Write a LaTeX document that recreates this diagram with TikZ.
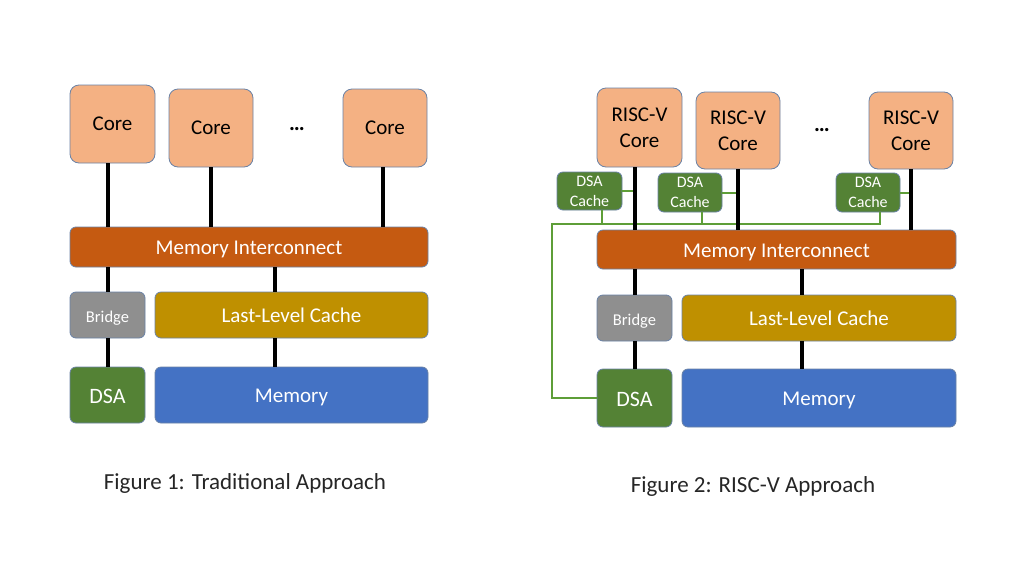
\documentclass[tikz,border=0pt]{standalone}
\usepackage{fontspec}
\setmainfont{Carlito}
\usetikzlibrary{calc}
\definecolor{corefill}{HTML}{F4B183}
\definecolor{boxline}{HTML}{6A82A6}
\definecolor{mifill}{HTML}{C55A11}
\definecolor{llcfill}{HTML}{BF9000}
\definecolor{brfill}{HTML}{8F8F8F}
\definecolor{dsafill}{HTML}{548235}
\definecolor{memfill}{HTML}{4472C4}
\definecolor{gline}{HTML}{5E9E38}
\tikzset{
  box/.style={draw=boxline, line width=0.8pt, rounded corners=6pt, inner sep=0pt, outer sep=0pt, text=white, align=center, font=\fontsize{21}{24}\selectfont},
  oneline/.style={text height=16pt, text depth=1pt},
  corebox/.style={box, fill=corefill, text=black, rounded corners=9pt, font=\fontsize{21}{26}\selectfont},
  mibox/.style={box, oneline, fill=mifill},
  llcbox/.style={box, oneline, fill=llcfill},
  brbox/.style={box, fill=brfill, font=\fontsize{16.5}{18}\selectfont, text height=14pt, text depth=0pt},
  dsabox/.style={box, fill=dsafill, font=\fontsize{22}{24}\selectfont, text height=17pt, text depth=1pt},
  dcbox/.style={box, fill=dsafill, font=\fontsize{16}{20}\selectfont},
  membox/.style={box, oneline, fill=memfill},
  wire/.style={line width=4pt, black},
  gwire/.style={line width=2pt, gline},
  dotsnode/.style={font=\fontsize{22}{24}\selectfont\bfseries, inner sep=0pt},
  caption/.style={font=\fontsize{23}{26}\selectfont, text=black!85, inner sep=0pt}
}
\begin{document}
\begin{tikzpicture}[x=1pt,y=-1pt]
\useasboundingbox[fill=white] (0,0) rectangle (1024,576);

% ---------- Figure 1 ----------
\node[corebox, minimum width=85, minimum height=78] (a1) at (112.5,124) {Core};
\node[corebox, minimum width=84, minimum height=78] (a2) at (211,128) {Core};
\node[corebox, minimum width=84, minimum height=78] (a3) at (385,128) {Core};
\node[dotsnode] (adots) at (297,129) {…};
\node[mibox, minimum width=358, minimum height=40] (ami) at (249,247) {Memory Interconnect};
\node[brbox, minimum width=75, minimum height=46] (abr) at (107.5,315) {Bridge};
\node[llcbox, minimum width=273, minimum height=46] (allc) at (291.5,315) {Last-Level Cache};
\node[dsabox, minimum width=75, minimum height=56] (adsa) at (107.5,395) {DSA};
\node[membox, minimum width=273, minimum height=56] (amem) at (291.5,395) {Memory};
\coordinate (allcx) at ($(allc.north west)!0.44!(allc.north east)$);
\draw[wire] (abr.north |- a1.south) -- (abr.north |- ami.north);
\draw[wire] (a2.south) -- (a2.south |- ami.north);
\draw[wire] ($(a3.south)+(-2,0)$) -- ($(a3.south |- ami.north)+(-2,0)$);
\draw[wire] (abr.north |- ami.south) -- (abr.north);
\draw[wire] (allcx |- ami.south) -- (allcx);
\draw[wire] (abr.south) -- (adsa.north);
\draw[wire] (allcx |- allc.south) -- (allcx |- amem.north);
\node[caption] (cap1) at (245,483) {Figure 1: Traditional Approach};

% ---------- Figure 2 ----------
\node[corebox, minimum width=85, minimum height=79] (b1) at (639.5,127.5) {RISC-V\\Core};
\node[corebox, minimum width=84, minimum height=77] (b2) at (738,130.5) {RISC-V\\Core};
\node[corebox, minimum width=84, minimum height=77] (b3) at (911,130.5) {RISC-V\\Core};
\node[dotsnode] (bdots) at (822,130) {…};
\node[dcbox, minimum width=65, minimum height=38] (dc1) at (589.5,191) {DSA\\Cache};
\node[dcbox, minimum width=64, minimum height=39] (dc2) at (690,192.5) {DSA\\Cache};
\node[dcbox, minimum width=64, minimum height=39] (dc3) at (868,192.5) {DSA\\Cache};
\node[mibox, minimum width=359, minimum height=39] (bmi) at (776.5,249.5) {Memory Interconnect};
\node[brbox, minimum width=75, minimum height=46] (bbr) at (634.5,318) {Bridge};
\node[llcbox, minimum width=274, minimum height=46] (bllc) at (819,318) {Last-Level Cache};
\node[dsabox, minimum width=75, minimum height=58] (bdsa) at (634.5,398) {DSA};
\node[membox, minimum width=274, minimum height=58] (bmem) at (819,398) {Memory};
\coordinate (bllcx) at ($(bllc.north west)!0.438!(bllc.north east)$);
\coordinate (d1) at ($(dc1.south west)!0.69!(dc1.south east)$);
\coordinate (d2) at ($(dc2.south west)!0.69!(dc2.south east)$);
\coordinate (d3) at ($(dc3.south west)!0.69!(dc3.south east)$);
\coordinate (busleft) at (552,224);
% green DSA links
\draw[gwire] (dc1.east) -- (dc1.east -| bbr.north);
\draw[gwire] (dc2.east) -- (dc2.east -| b2.south);
\draw[gwire] (dc3.east) -- (dc3.east -| b3.south);
\draw[gwire] (d1) -- (d1 |- busleft);
\draw[gwire] (d2) -- (d2 |- busleft);
\draw[gwire] (d3) |- (busleft) |- (bdsa.west);
% black wires
\draw[wire] (bbr.north |- b1.south) -- (bbr.north |- bmi.north);
\draw[wire] (b2.south) -- (b2.south |- bmi.north);
\draw[wire] (b3.south) -- (b3.south |- bmi.north);
\draw[wire] (bbr.north |- bmi.south) -- (bbr.north);
\draw[wire] (bllcx |- bmi.south) -- (bllcx);
\draw[wire] (bbr.south) -- (bdsa.north);
\draw[wire] (bllcx |- bllc.south) -- (bllcx |- bmem.north);
\node[caption] (cap2) at (753,486) {Figure 2: RISC-V Approach};
\end{tikzpicture}
\end{document}
